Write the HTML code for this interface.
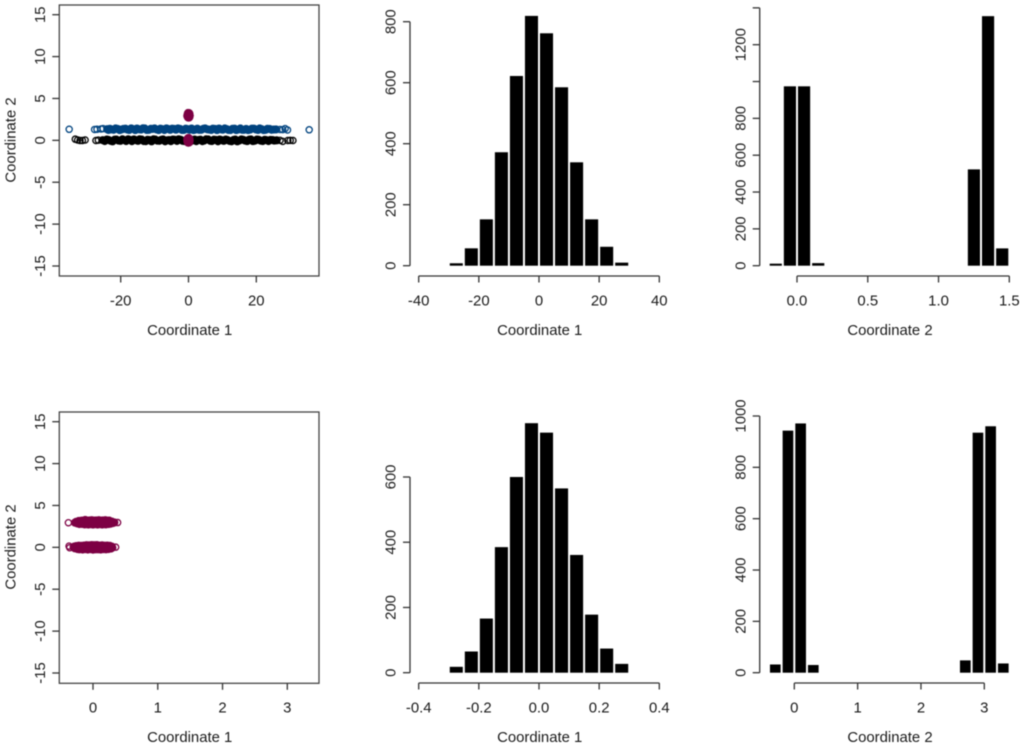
<!DOCTYPE html>
<html lang="en">
<head>
<meta charset="utf-8">
<title>Coordinate scatter plots and histograms</title>
<style>
  html, body { margin: 0; padding: 0; background: #fff; }
  svg { display: block; filter: blur(0.4px); }
  text { font-family: "Liberation Sans", sans-serif; font-size: 14.9px; fill: #1a1a1a; }
</style>
</head>
<body>
<svg id="chart" xmlns="http://www.w3.org/2000/svg" width="1024" height="747" viewBox="0 0 1024 747"></svg>
<script>
// ---- Scatter data (panel A: wide coordinate 1) ----
const blackCoreX = [-25.3,-24.1,-23.0,-21.8,-20.7,-19.5,-18.4,-17.2,-16.1,-14.9,-13.8,-12.6,-11.5,-10.3,-9.2,-8.0,-6.9,-5.7,-4.6,-3.4,-2.3,-1.1,0.0,1.2,2.3,3.5,4.6,5.8,6.9,8.1,9.2,10.4,11.5,12.7,13.8,15.0,16.1,17.3,18.4,19.6,20.7,21.9,23.0,24.2,25.3,26.0];
const blackCoreY = [0.02,0.10,-0.05,0.08,-0.02,0.12,-0.08,0.05,0.11,-0.06,0.09,-0.10,0.04,0.12,-0.04,0.07,-0.11,0.03,0.10,-0.07,0.06,-0.09,0.12,0.01,-0.10,0.08,-0.03,0.11,-0.08,0.05,0.10,-0.06,0.03,-0.11,0.09,-0.02,0.07,-0.09,0.11,-0.04,0.06,-0.08,0.02,0.05,-0.03,0.0];
const blackMidX = [-24.7,-23.6,-22.4,-21.3,-20.1,-19.0,-17.8,-16.7,-15.5,-14.4,-13.2,-12.1,-10.9,-9.8,-8.6,-7.5,-6.3,-5.2,-4.0,-2.9,-1.7,-0.6,0.6,1.8,2.9,4.1,5.2,6.4,7.5,8.7,9.8,11.0,12.1,13.3,14.4,15.6,16.7,17.9,19.0,20.2,21.3,22.5,23.6,24.8];
const blackMidY = [-0.08,0.05,-0.12,0.10,-0.06,0.04,0.12,-0.10,0.02,0.13,-0.08,0.06,-0.12,0.09,-0.05,0.11,0.0,-0.10,0.07,0.12,-0.06,0.04,-0.12,0.09,0.03,-0.10,0.12,-0.05,0.08,-0.11,0.02,0.10,-0.07,0.05,-0.12,0.11,-0.03,0.08,-0.09,0.10,-0.04,0.07,-0.08,0.03];
const blackOpenX = [-33.4,-32.7,-32.0,-31.3,-30.5,-27.3,-26.6,27.0,27.8,29.3,30.0,30.8];
const blackOpenY = [0.14,0.04,-0.02,-0.02,0.04,-0.02,0.02,0.0,-0.12,-0.02,0.0,-0.02];
const blueCoreX = [-24.0,-23.2,-22.1,-20.9,-19.8,-18.6,-17.5,-16.3,-15.2,-14.0,-12.9,-11.7,-10.6,-9.4,-8.3,-7.1,-6.0,-4.8,-3.7,-2.5,-1.4,-0.2,0.9,2.1,3.2,4.4,5.5,6.7,7.8,9.0,10.1,11.3,12.4,13.6,14.7,15.9,17.0,18.2,19.3,20.5,21.6,22.8,23.9,25.1,25.8];
const blueCoreY = [1.33,1.38,1.26,1.36,1.29,1.40,1.24,1.34,1.41,1.28,1.42,1.25,1.36,1.30,1.39,1.23,1.35,1.40,1.27,1.37,1.24,1.33,1.41,1.29,1.25,1.38,1.32,1.24,1.36,1.41,1.27,1.34,1.23,1.39,1.30,1.25,1.37,1.28,1.40,1.24,1.33,1.26,1.36,1.29,1.30];
const blueMidX = [-23.6,-22.6,-21.5,-20.3,-19.2,-18.0,-16.9,-15.7,-14.6,-13.4,-12.3,-11.1,-10.0,-8.8,-7.7,-6.5,-5.4,-4.2,-3.1,-1.9,-0.8,0.3,1.5,2.6,3.8,4.9,6.1,7.2,8.4,9.5,10.7,11.8,13.0,14.1,15.3,16.4,17.6,18.7,19.9,21.0,22.2,23.3,24.5];
const blueMidY = [1.24,1.30,1.42,1.22,1.36,1.28,1.43,1.22,1.32,1.44,1.24,1.38,1.42,1.22,1.34,1.43,1.25,1.36,1.42,1.24,1.40,1.26,1.22,1.40,1.26,1.42,1.28,1.40,1.22,1.32,1.42,1.24,1.38,1.22,1.42,1.26,1.22,1.40,1.30,1.42,1.22,1.38,1.26];
const blueOpenX = [-35.2,-27.7,-27.0,-25.8,-25.2,27.0,27.8,28.5,29.2,35.6];
const blueOpenY = [1.32,1.30,1.32,1.36,1.40,1.30,1.28,1.40,1.24,1.26];

// ---- Scatter data (both panels: maroon clusters) ----
const maroonTopX = [-0.28,-0.26,-0.24,-0.22,-0.21,-0.18,-0.17,-0.15,-0.13,-0.12,-0.10,-0.08,-0.07,-0.05,-0.03,-0.02,0.0,0.02,0.03,0.05,0.07,0.09,0.10,0.12,0.14,0.15,0.17,0.19,0.20,0.22,0.24,0.25,0.27,0.29,0.31,0.33];
const maroonTopY = [2.95,3.05,2.85,3.15,2.78,3.18,2.80,3.20,2.74,3.27,2.76,3.20,2.72,3.22,2.76,3.24,2.72,3.20,2.76,3.22,2.72,3.24,2.76,3.18,2.72,3.22,2.76,3.24,2.74,3.18,2.78,3.20,2.82,3.08,2.90,2.97];
const maroonTopOpenX = [-0.38,0.38];
const maroonTopOpenY = [2.94,2.96];
const maroonBottomX = [-0.30,-0.29,-0.28,-0.26,-0.24,-0.22,-0.21,-0.18,-0.16,-0.14,-0.12,-0.10,-0.08,-0.06,-0.04,-0.02,0.0,0.02,0.04,0.06,0.08,0.10,0.12,0.14,0.16,0.18,0.20,0.22,0.24,0.26,0.28,0.29,0.30];
const maroonBottomY = [0.0,0.10,-0.12,0.16,-0.20,0.20,-0.24,0.18,-0.26,0.22,-0.22,0.26,-0.26,0.24,-0.22,0.28,-0.28,0.26,-0.24,0.28,-0.24,0.22,-0.26,0.24,-0.22,0.20,-0.24,0.22,-0.20,0.18,-0.14,0.10,-0.04];
const maroonBottomOpenX = [-0.37,-0.36,0.35];
const maroonBottomOpenY = [0.15,-0.05,0.02];

// ---- Scatter axis ticks ----
const scatterYTicks = [-15,-10,-5,0,5,10,15];
const scatterAXTicks = [-20,0,20];
const scatterBXTicks = [0,1,2,3];

// ---- Histogram: top middle ----
const hist1BinStarts = [-30,-25,-20,-15,-10,-5,0,5,10,15,20,25];
const hist1Counts = [8,57,152,372,622,819,762,585,339,152,62,10];
const hist1XTicks = [-40,-20,0,20,40];
const hist1YTicks = [0,200,400,600,800];
const hist1YLabels = ["0","200","400","600","800"];

// ---- Histogram: top right ----
const hist2BinStarts = [-0.2,-0.1,0.0,0.1,1.2,1.3,1.4];
const hist2Counts = [11,974,974,14,523,1355,94];
const hist2XTicks = [0,0.5,1,1.5];
const hist2XLabels = ["0.0","0.5","1.0","1.5"];
const hist2YTicks = [0,200,400,600,800,1000,1200,1400];
const hist2YLabels = ["0","200","400","600","800","","1200",""];

// ---- Histogram: bottom middle ----
const hist3BinStarts = [-0.3,-0.25,-0.2,-0.15,-0.1,-0.05,0,0.05,0.1,0.15,0.2,0.25];
const hist3Counts = [18,65,166,385,600,765,736,565,361,178,74,27];
const hist3XTicks = [-0.4,-0.2,0,0.2,0.4];
const hist3XLabels = ["-0.4","-0.2","0.0","0.2","0.4"];
const hist3YTicks = [0,200,400,600];
const hist3YLabels = ["0","200","400","600"];

// ---- Histogram: bottom right ----
const hist4BinStarts = [-0.4,-0.2,0,0.2,2.6,2.8,3.0,3.2];
const hist4Counts = [32,943,971,30,48,935,960,36];
const hist4XTicks = [0,1,2,3];
const hist4YTicks = [0,200,400,600,800,1000];
const hist4YLabels = ["0","200","400","600","800","1000"];

const BLACK = "#000000";
const BLUE = "#00437f";
const MAROON = "#7d0044";
const AXIS = "#333333";
const svg = document.getElementById("chart");
const NS = "http://www.w3.org/2000/svg";

function linear(d0, d1, r0, r1) {
  return function (v) { return r0 + (v - d0) * (r1 - r0) / (d1 - d0); };
}
function line(parent, x1, y1, x2, y2, name) {
  const el = document.createElementNS(NS, "line");
  el.setAttribute("x1", x1);
  el.setAttribute("y1", y1);
  el.setAttribute("x2", x2);
  el.setAttribute("y2", y2);
  el.setAttribute("stroke", AXIS);
  el.setAttribute("stroke-width", "1.3");
  
  
  parent.appendChild(el);
}
function label(parent, x, y, str, rotated, name) {
  const el = document.createElementNS(NS, "text");
  el.setAttribute("x", x);
  el.setAttribute("y", y);
  el.setAttribute("text-anchor", "middle");
  if (rotated) el.setAttribute("transform", "rotate(-90 " + x + " " + y + ")");
  el.textContent = str;
  
  
  parent.appendChild(el);
}
function group(name) {
  const g = document.createElementNS(NS, "g");
  
  
  svg.appendChild(g);
  return g;
}
function points(parent, xs, ys, sx, sy, color, filled, name) {
  xs.forEach(function (v, i) {
    const c = document.createElementNS(NS, "circle");
    c.setAttribute("cx", sx(v));
    c.setAttribute("cy", sy(ys[i]));
    c.setAttribute("r", filled ? "3.4" : "3.1");
    c.setAttribute("fill", filled ? color : "none");
    c.setAttribute("stroke", color);
    c.setAttribute("stroke-width", "1.3");
    
    
    parent.appendChild(c);
  });
}
function xAxis(parent, ticks, labels, sx, axisY, labelY) {
  line(parent, sx(ticks[0]), axisY, sx(ticks[ticks.length - 1]), axisY, "x-axis-line");
  ticks.forEach(function (t, i) {
    line(parent, sx(t), axisY, sx(t), axisY + 6.5, "x-axis-tick");
    label(parent, sx(t), labelY, labels[i], false, "x-tick-label");
  });
}
function yAxis(parent, ticks, labels, sy, axisX, labelX) {
  line(parent, axisX, sy(ticks[0]), axisX, sy(ticks[ticks.length - 1]), "y-axis-line");
  ticks.forEach(function (t, i) {
    line(parent, axisX - 7, sy(t), axisX, sy(t), "y-axis-tick");
    if (labels[i] !== "") label(parent, labelX, sy(t), labels[i], true, "y-tick-label");
  });
}
function box(parent, x, y, w, h) {
  const r = document.createElementNS(NS, "rect");
  r.setAttribute("x", x);
  r.setAttribute("y", y);
  r.setAttribute("width", w);
  r.setAttribute("height", h);
  r.setAttribute("fill", "none");
  r.setAttribute("stroke", "#444444");
  r.setAttribute("stroke-width", "1.3");
  
  
  parent.appendChild(r);
}
function bars(parent, starts, counts, width, sx, sy) {
  starts.forEach(function (s, i) {
    const x0 = sx(s);
    const x1 = sx(s + width);
    const r = document.createElementNS(NS, "rect");
    r.setAttribute("x", x0 + 1);
    r.setAttribute("y", sy(counts[i]));
    r.setAttribute("width", x1 - x0 - 2);
    r.setAttribute("height", sy(0) - sy(counts[i]));
    r.setAttribute("fill", BLACK);
    
    
    parent.appendChild(r);
  });
}
function fmt(list) { return list.map(String); }

// Panel A: scatter, top left
(function () {
  const g = group("scatter-top-left");
  const sx = linear(-20, 20, 120.7, 256.3);
  const sy = linear(-15, 15, 266, 14.7);
  points(g, blackCoreX, blackCoreY, sx, sy, BLACK, true, "black-point");
  points(g, blackMidX, blackMidY, sx, sy, BLACK, true, "black-point");
  points(g, blackOpenX, blackOpenY, sx, sy, BLACK, false, "black-point");
  points(g, blueCoreX, blueCoreY, sx, sy, BLUE, true, "blue-point");
  points(g, blueMidX, blueMidY, sx, sy, BLUE, true, "blue-point");
  points(g, blueOpenX, blueOpenY, sx, sy, BLUE, false, "blue-point");
  points(g, maroonTopX, maroonTopY, sx, sy, MAROON, true, "maroon-point");
  points(g, maroonTopOpenX, maroonTopOpenY, sx, sy, MAROON, true, "maroon-point");
  points(g, maroonBottomX, maroonBottomY, sx, sy, MAROON, true, "maroon-point");
  points(g, maroonBottomOpenX, maroonBottomOpenY, sx, sy, MAROON, true, "maroon-point");
  box(g, 59.3, 5, 259.7, 271);
  scatterAXTicks.forEach(function (t) {
    line(g, sx(t), 276, sx(t), 282.5, "x-axis-tick");
    label(g, sx(t), 305.7, String(t), false, "x-tick-label");
  });
  scatterYTicks.forEach(function (t) {
    line(g, 52.3, sy(t), 59.3, sy(t), "y-axis-tick");
    label(g, 45, sy(t), String(t), true, "y-tick-label");
  });
  label(g, 189.7, 335, "Coordinate 1", false, "x-axis-title");
  label(g, 15.7, 140, "Coordinate 2", true, "y-axis-title");
})();

// Panel B: scatter, bottom left
(function () {
  const g = group("scatter-bottom-left");
  const sx = linear(0, 3, 93, 287.3);
  const sy = linear(-15, 15, 673, 421.7);
  points(g, maroonTopX, maroonTopY, sx, sy, MAROON, true, "maroon-point");
  points(g, maroonTopOpenX, maroonTopOpenY, sx, sy, MAROON, false, "maroon-point");
  points(g, maroonBottomX, maroonBottomY, sx, sy, MAROON, true, "maroon-point");
  points(g, maroonBottomOpenX, maroonBottomOpenY, sx, sy, MAROON, false, "maroon-point");
  box(g, 59.3, 412, 259.7, 271.3);
  scatterBXTicks.forEach(function (t) {
    line(g, sx(t), 683.3, sx(t), 689.8, "x-axis-tick");
    label(g, sx(t), 712.3, String(t), false, "x-tick-label");
  });
  scatterYTicks.forEach(function (t) {
    line(g, 52.3, sy(t), 59.3, sy(t), "y-axis-tick");
    label(g, 45, sy(t), String(t), true, "y-tick-label");
  });
  label(g, 189.7, 742, "Coordinate 1", false, "x-axis-title");
  label(g, 15.7, 547, "Coordinate 2", true, "y-axis-title");
})();

// Histogram, top middle
(function () {
  const g = group("histogram-top-middle");
  const sx = linear(-40, 40, 418.7, 659.3);
  const sy = linear(0, 800, 265.7, 21.7);
  bars(g, hist1BinStarts, hist1Counts, 5, sx, sy);
  xAxis(g, hist1XTicks, fmt(hist1XTicks), sx, 276, 305.7);
  yAxis(g, hist1YTicks, hist1YLabels, sy, 410, 395.7);
  label(g, 539.7, 335, "Coordinate 1", false, "x-axis-title");
})();

// Histogram, top right
(function () {
  const g = group("histogram-top-right");
  const sx = linear(0, 1.5, 797, 1009.3);
  const sy = linear(0, 1200, 265.7, 44.7);
  bars(g, hist2BinStarts, hist2Counts, 0.1, sx, sy);
  xAxis(g, hist2XTicks, hist2XLabels, sx, 276, 305.7);
  yAxis(g, hist2YTicks, hist2YLabels, sy, 759.7, 745.7);
  label(g, 890, 335, "Coordinate 2", false, "x-axis-title");
})();

// Histogram, bottom middle
(function () {
  const g = group("histogram-bottom-middle");
  const sx = linear(-0.4, 0.4, 418.7, 659.3);
  const sy = linear(0, 600, 672.7, 477);
  bars(g, hist3BinStarts, hist3Counts, 0.05, sx, sy);
  xAxis(g, hist3XTicks, hist3XLabels, sx, 683, 712.3);
  yAxis(g, hist3YTicks, hist3YLabels, sy, 410, 395.7);
  label(g, 539.7, 742, "Coordinate 1", false, "x-axis-title");
})();

// Histogram, bottom right
(function () {
  const g = group("histogram-bottom-right");
  const sx = linear(0, 3, 794.3, 984.3);
  const sy = linear(0, 1000, 672.7, 416);
  bars(g, hist4BinStarts, hist4Counts, 0.2, sx, sy);
  xAxis(g, hist4XTicks, fmt(hist4XTicks), sx, 683, 712.3);
  yAxis(g, hist4YTicks, hist4YLabels, sy, 759.7, 745.7);
  label(g, 890, 742, "Coordinate 2", false, "x-axis-title");
})();
</script>
</body>
</html>
